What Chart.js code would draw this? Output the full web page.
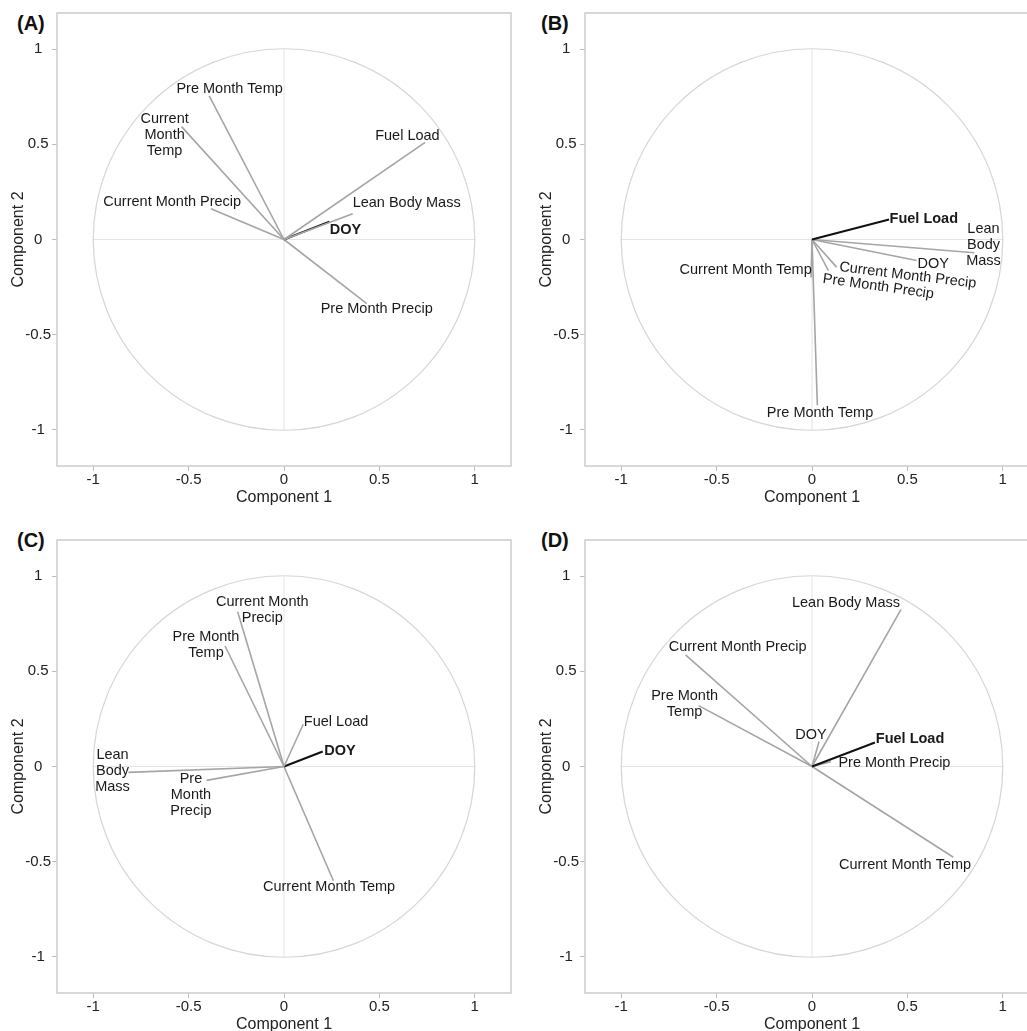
<!DOCTYPE html>
<html>
<head>
<meta charset="utf-8">
<script src="https://cdn.jsdelivr.net/npm/chart.js@4"></script>
<style>
  html, body { margin: 0; padding: 0; background: #fff; overflow: hidden; }
  body { width: 1027px; height: 1031px; position: relative; }
  canvas { position: absolute; }
  .tag { position: absolute; font: bold 20px "Liberation Sans", Arial, sans-serif; line-height: 20px; color: #111; }
</style>
</head>
<body>
<div class="tag" style="left:17px;top:13px">(A)</div>
<div class="tag" style="left:541px;top:13px">(B)</div>
<div class="tag" style="left:17px;top:530px">(C)</div>
<div class="tag" style="left:541px;top:530px">(D)</div>
<canvas id="pA" width="530" height="515" style="left:-15px;top:0px"></canvas>
<canvas id="pB" width="530" height="515" style="left:513px;top:0px"></canvas>
<canvas id="pC" width="530" height="515" style="left:-15px;top:527px"></canvas>
<canvas id="pD" width="530" height="515" style="left:513px;top:527px"></canvas>
<script>
// variables (same order in every panel)
const vars = ['Fuel Load', 'Lean Body Mass', 'DOY', 'Current Month Temp', 'Pre Month Temp', 'Current Month Precip', 'Pre Month Precip'];

const tickValues = [-1, -0.5, 0, 0.5, 1];
const tickLabels = ['-1', '-0.5', '0', '0.5', '1'];

// (A) loadings
const aComp1 = [0.740, 0.360, 0.238, -0.537, -0.392, -0.383, 0.434];
const aComp2 = [0.510, 0.135, 0.094, 0.593, 0.755, 0.161, -0.337];
const aBold = 'DOY';
const aText = ['Fuel Load', 'Lean Body Mass', 'DOY', 'Current\nMonth\nTemp', 'Pre Month Temp', 'Current Month Precip', 'Pre Month Precip'];

// (B) loadings
const bComp1 = [0.404, 0.851, 0.549, -0.005, 0.028, 0.129, 0.086];
const bComp2 = [0.105, -0.070, -0.110, -0.200, -0.871, -0.145, -0.163];
const bBold = 'Fuel Load';
const bText = ['Fuel Load', 'Lean\nBody\nMass', 'DOY', 'Current Month Temp', 'Pre Month Temp', 'Current Month Precip', 'Pre Month Precip'];

// (C) loadings
const cComp1 = [0.101, -0.816, 0.203, 0.259, -0.309, -0.243, -0.406];
const cComp2 = [0.222, -0.031, 0.079, -0.600, 0.633, 0.813, -0.073];
const cBold = 'DOY';
const cText = ['Fuel Load', 'Lean\nBody\nMass', 'DOY', 'Current Month Temp', 'Pre Month\nTemp', 'Current Month\nPrecip', 'Pre\nMonth\nPrecip'];

// (D) loadings
const dComp1 = [0.330, 0.467, 0.037, 0.741, -0.594, -0.663, 0.100];
const dComp2 = [0.126, 0.825, 0.131, -0.477, 0.320, 0.586, 0.025];
const dBold = 'Fuel Load';
const dText = ['Fuel Load', 'Lean Body Mass', 'DOY', 'Current Month Temp', 'Pre Month\nTemp', 'Current Month Precip', 'Pre Month Precip'];

// where each label sits (data units) and its slant in degrees
const aLabX = [0.647, 0.643, 0.322, -0.626, -0.285, -0.586, 0.486];
const aLabY = [0.542, 0.192, 0.052, 0.547, 0.790, 0.196, -0.367];
const bLabX = [0.586, 0.899, 0.636, -0.348, 0.042, 0.502, 0.348];
const bLabY = [0.108, -0.028, -0.131, -0.159, -0.914, -0.189, -0.247];
const bRot = [0, 0, 0, 0, 0, 7, 8];
const cLabX = [0.273, -0.899, 0.294, 0.236, -0.409, -0.114, -0.488];
const cLabY = [0.233, -0.023, 0.079, -0.635, 0.640, 0.822, -0.149];
const dLabX = [0.514, 0.178, -0.005, 0.488, -0.668, -0.390, 0.432];
const dLabY = [0.143, 0.857, 0.166, -0.516, 0.327, 0.628, 0.017];

const FONT = '"Liberation Sans", Arial, sans-serif';

function makePanel(id, comp1, comp2, bold, text, labX, labY, rot) {
    const datasets = vars.map((v, i) => ({
        label: v,
        data: [{ x: 0, y: 0 }, { x: comp1[i], y: comp2[i] }],
        showLine: true,
        borderColor: v === bold ? '#111111' : '#a5a5a5',
        borderWidth: v === bold ? 2 : 1.6,
        pointRadius: 0
    }));

    // circle, zero lines and frame
    const backdrop = {
        id: 'backdrop',
        beforeDatasetsDraw(chart) {
            const { ctx, chartArea: ca, scales: { x, y } } = chart;
            const cx = x.getPixelForValue(0), cy = y.getPixelForValue(0);
            const r = x.getPixelForValue(1) - cx;
            ctx.save();
            ctx.strokeStyle = '#e4e4e4';
            ctx.lineWidth = 1;
            ctx.beginPath();
            ctx.moveTo(x.getPixelForValue(-1), cy);
            ctx.lineTo(x.getPixelForValue(1), cy);
            ctx.moveTo(cx, y.getPixelForValue(1));
            ctx.lineTo(cx, y.getPixelForValue(-1));
            ctx.stroke();
            ctx.strokeStyle = '#d6d6d6';
            ctx.lineWidth = 1.2;
            ctx.beginPath();
            ctx.arc(cx, cy, r, 0, Math.PI * 2);
            ctx.stroke();
            ctx.strokeStyle = '#cccccc';
            ctx.lineWidth = 1.5;
            ctx.strokeRect(ca.left, ca.top, ca.right - ca.left, ca.bottom - ca.top);
            ctx.restore();
        }
    };

    // variable names
    const names = {
        id: 'names',
        afterDatasetsDraw(chart) {
            const { ctx, scales: { x, y } } = chart;
            ctx.save();
            ctx.fillStyle = '#1a1a1a';
            ctx.textAlign = 'center';
            ctx.textBaseline = 'middle';
            vars.forEach((v, i) => {
                const lines = text[i].split('\n');
                ctx.font = (v === bold ? 'bold ' : '') + '14.5px ' + FONT;
                ctx.save();
                ctx.translate(x.getPixelForValue(labX[i]), y.getPixelForValue(labY[i]));
                ctx.rotate(((rot ? rot[i] : 0) * Math.PI) / 180);
                lines.forEach((ln, k) => {
                    ctx.fillText(ln, 0, (k - (lines.length - 1) / 2) * 16);
                });
                ctx.restore();
            });
            ctx.restore();
        }
    };

    const axis = (titleText, isY) => ({
        type: 'linear',
        min: -1.19,
        max: 1.19,
        afterBuildTicks: s => { s.ticks = tickValues.map(v => ({ value: v })); },
        afterFit: s => { if (isY) s.width = 72; else s.height = 49; },
        border: { display: false },
        grid: { drawOnChartArea: false, drawTicks: true, tickLength: 5, tickColor: '#bdbdbd', color: '#bdbdbd' },
        ticks: {
            color: '#222',
            font: { family: FONT, size: 15 },
            padding: isY ? 1 : 0,
            crossAlign: isY ? 'center' : 'near',
            maxRotation: 0,
            callback: (val, idx) => tickLabels[idx]
        },
        title: {
            display: true,
            text: titleText,
            color: '#222',
            font: { family: FONT, size: 16 },
            padding: isY ? { top: 24.4, bottom: 0 } : { top: 0, bottom: 8 }
        }
    });

    new Chart(document.getElementById(id), {
        type: 'scatter',
        data: { datasets },
        options: {
            responsive: false,
            animation: false,
            devicePixelRatio: 1,
            layout: { padding: { left: 0, top: 13, right: 4, bottom: 0 } },
            plugins: { legend: { display: false }, tooltip: { enabled: false } },
            scales: {
                x: axis('Component 1', false),
                y: axis('Component 2', true)
            }
        },
        plugins: [backdrop, names]
    });
}

makePanel('pA', aComp1, aComp2, aBold, aText, aLabX, aLabY, null);
makePanel('pB', bComp1, bComp2, bBold, bText, bLabX, bLabY, bRot);
makePanel('pC', cComp1, cComp2, cBold, cText, cLabX, cLabY, null);
makePanel('pD', dComp1, dComp2, dBold, dText, dLabX, dLabY, null);
</script>
</body>
</html>
